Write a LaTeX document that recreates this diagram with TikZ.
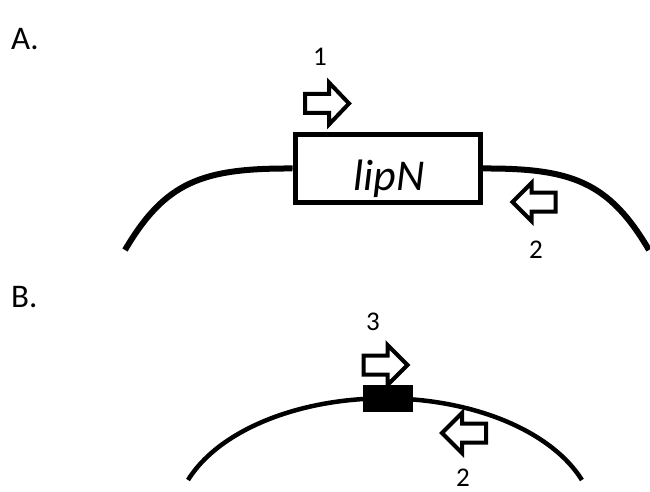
\documentclass[tikz,border=0pt]{standalone}
\usepackage{fontspec}
\setmainfont{Carlito}
\begin{document}
\begin{tikzpicture}[x=1pt,y=-1pt,
  primer/.style={draw=black, fill=white, line width=4pt, line join=miter},
  dna/.style={draw=black, line width=6pt},
  dnab/.style={draw=black, line width=4.5pt},
  num/.style={anchor=base, inner sep=0pt, font=\fontsize{27}{30}\selectfont},
  panel/.style={anchor=base west, inner sep=0pt, font=\fontsize{33}{36}\selectfont}]
\useasboundingbox (0,0) rectangle (650,492);
% Panel A
\node[panel] (labA) at (11,50) {A.};
\coordinate (aL) at (125,250);
\coordinate (aR) at (649,250);
\node[draw=black, line width=5pt, minimum width=185pt, minimum height=68pt, inner sep=0pt] (gene) at (387.5,168.5) {};
\draw[dna] (aL) .. controls (165,182) and (202,168) .. (gene.west);
\draw[dna] (gene.east) .. controls (572,168) and (609,182) .. (aR);
\node[anchor=base, inner sep=0pt, font=\fontsize{44}{48}\selectfont\itshape] (lip) at (389,190) {lipN};
\draw[primer, shift={(327,103.5)}] (-22,-9.5) -- (2,-9.5) -- (2,-21) -- (22,0) -- (2,21) -- (2,9.5) -- (-22,9.5) -- cycle;
\node[num] (n1) at (320,66) {1};
\draw[primer, shift={(533.5,202)}, xscale=-1] (-22,-9.5) -- (2,-9.5) -- (2,-19) -- (21,0) -- (2,19) -- (2,9.5) -- (-22,9.5) -- cycle;
\node[num] (n2a) at (536,258) {2};
% Panel B
\node[panel] (labB) at (11,307) {B.};
\coordinate (bL) at (188,480);
\draw[dnab] (bL) arc[start angle=159.7, end angle=20.3, x radius=210pt, y radius=125pt] coordinate (bR);
\node[fill=black, minimum width=50pt, minimum height=27pt, inner sep=0pt] (site) at (388,398.5) {};
\draw[primer, shift={(385.5,365)}] (-22,-9.5) -- (2,-9.5) -- (2,-20) -- (22,0) -- (2,20) -- (2,9.5) -- (-22,9.5) -- cycle;
\node[num] (n3) at (373,330) {3};
\draw[primer, shift={(464,433)}, xscale=-1] (-22,-9.5) -- (2,-9.5) -- (2,-20) -- (22,0) -- (2,20) -- (2,9.5) -- (-22,9.5) -- cycle;
\node[num] (n2b) at (463,486) {2};
\end{tikzpicture}
\end{document}
